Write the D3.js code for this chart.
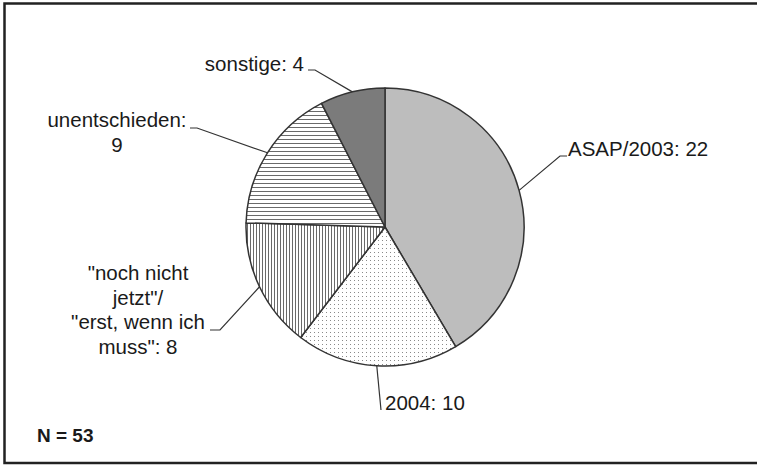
<!DOCTYPE html>
<html>
<head>
<meta charset="utf-8">
<script src="https://cdn.jsdelivr.net/npm/d3@7"></script>
<style>
  body { margin: 0; background: #fff; }
  svg { display: block; }
  text { font-family: "Liberation Sans", Arial, sans-serif; fill: #1a1a1a; }
</style>
</head>
<body>
<div id="chart"></div>
<script>
// Daten
var categories = ["ASAP/2003", "2004", "noch nicht", "unentschieden", "sonstige"];
var values = [22, 10, 8, 9, 4];
var labelLines = [
    ["ASAP/2003: 22"],
    ["2004: 10"],
    ["\"noch nicht", "jetzt\"/", "\"erst, wenn ich", "muss\": 8"],
    ["unentschieden:", "9"],
    ["sonstige: 4"]
];
var totalLabel = "N = 53";

// Layout
var width = 757, height = 465;
var cx = 385, cy = 227, radius = 139;
var fills = ["#bdbdbd", "url(#dots)", "url(#vlines)", "url(#hlines)", "#7b7b7b"];
// Knickpunkt der Linie, Ende der Linie, Textposition, Ausrichtung
var labelLayout = [
    { elbow: [560, 156], end: [567, 156], tx: 568, ty: 156, anchor: "start" },
    { elbow: [381, 410], end: [381, 410], tx: 385, ty: 410, anchor: "start" },
    { elbow: [220, 330], end: [210, 330], tx: 138, ty: 280, anchor: "middle" },
    { elbow: [197, 128], end: [190, 128], tx: 117, ty: 127, anchor: "middle" },
    { elbow: [315, 70], end: [308, 70], tx: 304, ty: 71, anchor: "end" }
];
var lineHeight = 24.5;

var svg = d3.select("#chart").append("svg")
    .attr("width", width)
    .attr("height", height);

svg.append("rect").attr("width", width).attr("height", height).attr("fill", "#fff");

// Muster
var defs = svg.append("defs");
var pDots = defs.append("pattern").attr("id", "dots")
    .attr("patternUnits", "userSpaceOnUse").attr("width", 4).attr("height", 4);
pDots.append("rect").attr("width", 4).attr("height", 4).attr("fill", "#fff");
pDots.append("rect").attr("x", 1).attr("y", 1).attr("width", 1).attr("height", 1).attr("fill", "#8a8a8a");

var pV = defs.append("pattern").attr("id", "vlines")
    .attr("patternUnits", "userSpaceOnUse").attr("width", 3).attr("height", 3);
pV.append("rect").attr("width", 3).attr("height", 3).attr("fill", "#fff");
pV.append("rect").attr("x", 0).attr("width", 1).attr("height", 3).attr("fill", "#6a6a6a");

var pH = defs.append("pattern").attr("id", "hlines")
    .attr("patternUnits", "userSpaceOnUse").attr("width", 4).attr("height", 4);
pH.append("rect").attr("width", 4).attr("height", 4).attr("fill", "#fff");
pH.append("rect").attr("y", 0).attr("width", 4).attr("height", 1).attr("fill", "#6a6a6a");

// Rahmen
svg.append("rect")
    .attr("x", 4.5).attr("y", 3.5)
    .attr("width", 760).attr("height", 459.5)
    .attr("fill", "none")
    .attr("stroke", "#222")
    .attr("stroke-width", 2.5);

var pie = d3.pie().sort(null).startAngle(0).endAngle(2 * Math.PI);
var arcs = pie(values);

var arc = d3.arc().innerRadius(0).outerRadius(radius);
var edge = d3.arc().innerRadius(radius).outerRadius(radius);

var g = svg.append("g").attr("transform", "translate(" + cx + "," + cy + ")");

g.selectAll("path.slice")
    .data(arcs)
    .enter()
    .append("path")
    .attr("class", "slice")
    .attr("d", arc)
    .attr("fill", function (d, i) { return fills[i]; })
    .attr("stroke", "#333")
    .attr("stroke-width", 1.5)
    .attr("stroke-linejoin", "round");

// Beschriftungslinien
arcs.forEach(function (d, i) {
    var c = edge.centroid(d);
    var L = labelLayout[i];
    var pts = [[cx + c[0], cy + c[1]], L.elbow, L.end];
    svg.append("path")
        .attr("d", d3.line()(pts))
        .attr("fill", "none")
        .attr("stroke", "#333")
        .attr("stroke-width", 1.2);

    var t = svg.append("text")
        .attr("x", L.tx)
        .attr("y", L.ty)
        .attr("text-anchor", L.anchor)
        .style("font-size", "20.5px");
    labelLines[i].forEach(function (line, j) {
        t.append("tspan")
            .attr("x", L.tx)
            .attr("y", L.ty + j * lineHeight)
            .text(line);
    });
});

svg.append("text")
    .attr("x", 37)
    .attr("y", 442)
    .style("font-size", "19px")
    .style("font-weight", "bold")
    .text(totalLabel);
</script>
</body>
</html>
